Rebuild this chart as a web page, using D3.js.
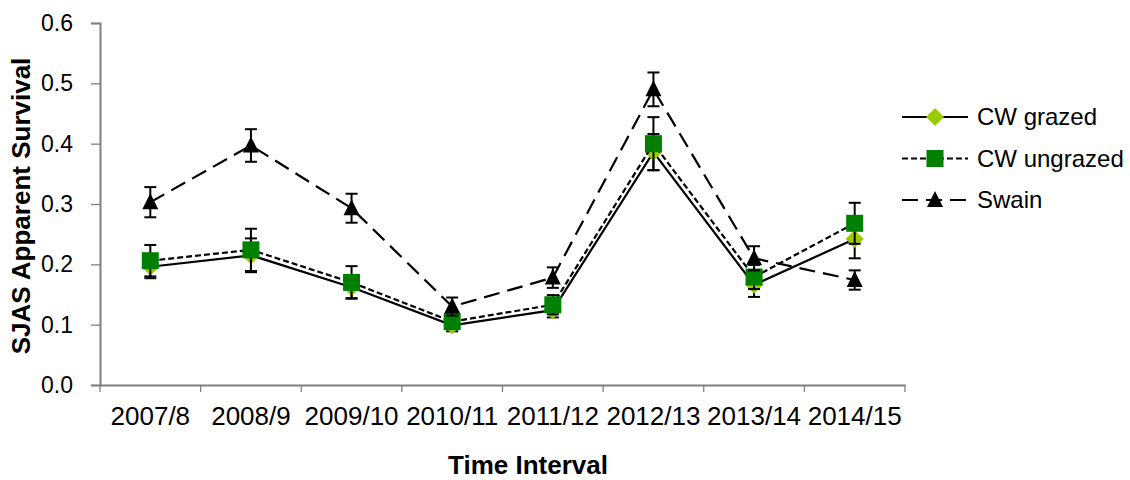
<!DOCTYPE html>
<html lang="en">
<head>
<meta charset="UTF-8">
<title>SJAS Apparent Survival</title>
<style>
    body { margin: 0; background: #fff; }
    svg { display: block; font-family: Arial, "Liberation Sans", sans-serif; }
</style>
</head>
<body>
<svg width="1130" height="480"></svg>
<script src="https://d3js.org/d3.v7.min.js"></script>
<script>
    // data
    const categories = ["2007/8", "2008/9", "2009/10", "2010/11", "2011/12", "2012/13", "2013/14", "2014/15"];
    const grazed      = [0.196, 0.215, 0.162, 0.099, 0.124, 0.386, 0.166, 0.242];
    const grazedErr   = [0.019, 0.028, 0.018, 0.010, 0.012, 0.030, 0.020, 0.032];
    const ungrazed    = [0.206, 0.224, 0.170, 0.105, 0.133, 0.400, 0.179, 0.268];
    const ungrazedErr = [0.026, 0.035, 0.027, 0.012, 0.016, 0.044, 0.020, 0.034];
    const swain       = [0.303, 0.397, 0.293, 0.130, 0.178, 0.490, 0.210, 0.174];
    const swainErr    = [0.025, 0.027, 0.024, 0.015, 0.017, 0.028, 0.020, 0.016];
    const yTicks = [0, 0.1, 0.2, 0.3, 0.4, 0.5, 0.6];
    const seriesNames = ["CW grazed", "CW ungrazed", "Swain"];

    const svg = d3.select("svg");
    const plotL = 100, plotR = 905, plotT = 23, plotB = 385;

    const x = d3.scaleBand().domain(categories).range([plotL, plotR]);
    const y = d3.scaleLinear().domain([0, 0.6]).range([plotB, plotT]);

    const series = [
        {name: seriesNames[0], values: grazed, err: grazedErr, dash: null, symbol: "diamond", fill: "#99cc00"},
        {name: seriesNames[1], values: ungrazed, err: ungrazedErr, dash: "6,3", symbol: "square", fill: "#008000"},
        {name: seriesNames[2], values: swain, err: swainErr, dash: "16,8", symbol: "triangle", fill: "#000"}
    ];

    // axes
    const yAxis = svg.append("g")
        .attr("transform", `translate(${plotL},0)`)
        .call(d3.axisLeft(y).tickValues(yTicks).tickFormat(d3.format(".1f")).tickSizeOuter(0).tickSize(9).tickPadding(18));
    const xAxis = svg.append("g")
        .attr("transform", `translate(0,${plotB})`)
        .call(d3.axisBottom(x).tickSize(0).tickSizeOuter(0).tickPadding(22));

    // band boundary ticks like Excel
    xAxis.selectAll(".sep")
        .data(d3.range(categories.length + 1))
        .join("line")
        .attr("x1", i => plotL + i * x.step())
        .attr("x2", i => plotL + i * x.step())
        .attr("y1", 0).attr("y2", 7)
        .attr("stroke", "#7f7f7f").attr("stroke-width", 1.3);

    [yAxis, xAxis].forEach(a => {
        a.select(".domain").attr("stroke", "#7f7f7f").attr("stroke-width", 2);
        a.selectAll(".tick line").attr("stroke", "#7f7f7f").attr("stroke-width", 1.3);
    });
    yAxis.selectAll(".tick text").attr("font-size", 23).attr("fill", "#000");
    xAxis.selectAll(".tick text").attr("font-size", 26).attr("fill", "#000").attr("dy", "0.71em");

    // axis titles
    svg.append("text")
        .attr("transform", "translate(30,206) rotate(-90)")
        .attr("text-anchor", "middle")
        .attr("font-size", 26).attr("font-weight", "bold")
        .text("SJAS Apparent Survival");
    svg.append("text")
        .attr("x", 528).attr("y", 474)
        .attr("text-anchor", "middle")
        .attr("font-size", 26).attr("font-weight", "bold")
        .text("Time Interval");

    const cx = c => x(c) + x.bandwidth() / 2;
    const line = d3.line().x(d => cx(d.c)).y(d => y(d.v));

    function marker(sel, s) {
        if (s.symbol === "diamond") {
            sel.append("path").attr("d", "M0,-9L9,0L0,9L-9,0Z").attr("fill", s.fill);
        } else if (s.symbol === "square") {
            sel.append("rect").attr("x", -8.5).attr("y", -8.5).attr("width", 17).attr("height", 17).attr("fill", s.fill);
        } else {
            sel.append("path").attr("d", "M0,-9L8,7L-8,7Z").attr("fill", s.fill);
        }
    }

    series.forEach(s => {
        const pts = categories.map((c, i) => ({c, v: s.values[i], e: s.err[i]}));
        const g = svg.append("g");
        g.append("path")
            .datum(pts)
            .attr("d", line)
            .attr("fill", "none")
            .attr("stroke", "#000")
            .attr("stroke-width", 2.2)
            .attr("stroke-dasharray", s.dash);

        const eb = g.selectAll(".eb").data(pts).join("g")
            .attr("stroke", "#000").attr("stroke-width", 2);
        eb.append("line")
            .attr("x1", d => cx(d.c)).attr("x2", d => cx(d.c))
            .attr("y1", d => y(d.v - d.e)).attr("y2", d => y(d.v + d.e));
        eb.append("line")
            .attr("x1", d => cx(d.c) - 6).attr("x2", d => cx(d.c) + 6)
            .attr("y1", d => y(d.v + d.e)).attr("y2", d => y(d.v + d.e));
        eb.append("line")
            .attr("x1", d => cx(d.c) - 6).attr("x2", d => cx(d.c) + 6)
            .attr("y1", d => y(d.v - d.e)).attr("y2", d => y(d.v - d.e));

        g.selectAll(".pt").data(pts).join("g")
            .attr("transform", d => `translate(${cx(d.c)},${y(d.v)})`)
            .each(function () { marker(d3.select(this), s); });
    });

    // legend
    const legend = svg.append("g").attr("transform", "translate(902,117)");
    series.forEach((s, i) => {
        const row = legend.append("g").attr("transform", `translate(0,${i * 41.5})`);
        row.append("line")
            .attr("x1", 0).attr("x2", 66).attr("y1", 0).attr("y2", 0)
            .attr("stroke", "#000").attr("stroke-width", 2.2)
            .attr("stroke-dasharray", s.dash);
        const m = row.append("g").attr("transform", "translate(33,0)");
        marker(m, s);
        row.append("text")
            .attr("x", 75).attr("y", 0).attr("dy", "0.35em")
            .attr("font-size", 24)
            .text(s.name);
    });
</script>
</body>
</html>
